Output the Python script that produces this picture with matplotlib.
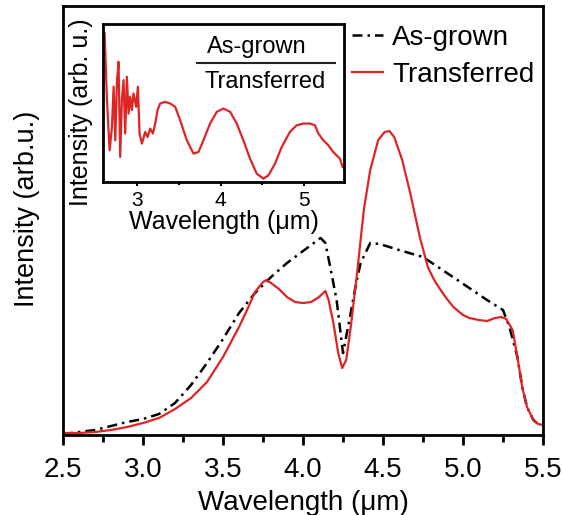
import matplotlib
matplotlib.use("Agg")
import matplotlib.pyplot as plt
from matplotlib.ticker import MultipleLocator, NullLocator
from matplotlib.lines import Line2D

plt.rcParams['font.family'] = ['Liberation Sans', 'DejaVu Sans']

# Main spectra (wavelength in um, intensity in arb. units)
wl_grown = [2.50, 2.70, 2.90, 3.00, 3.10, 3.20, 3.30, 3.40, 3.50, 3.60, 3.70, 3.80,
            3.90, 4.00, 4.11, 4.14, 4.18, 4.21, 4.25, 4.29, 4.33, 4.36, 4.42, 4.48,
            4.60, 4.75, 4.90, 5.03, 5.15, 5.25, 5.29, 5.34, 5.37, 5.40, 5.44, 5.47,
            5.50]
int_grown = [0.01, 0.05, 0.13, 0.16, 0.21, 0.32, 0.50, 0.72, 0.96, 1.22, 1.42, 1.58,
             1.72, 1.84, 1.97, 1.92, 1.60, 1.35, 0.82, 1.15, 1.50, 1.72, 1.92, 1.91,
             1.85, 1.78, 1.62, 1.48, 1.35, 1.25, 1.08, 0.78, 0.48, 0.28, 0.15, 0.11,
             0.10]

wl_trans = [2.50, 2.60, 2.70, 2.80, 2.90, 3.00, 3.10, 3.20, 3.30, 3.40, 3.50, 3.60,
            3.65, 3.70, 3.75, 3.77, 3.80, 3.85, 3.90, 3.95, 4.00, 4.05, 4.10, 4.14,
            4.16, 4.19, 4.22, 4.245, 4.27, 4.30, 4.34, 4.38, 4.42, 4.47, 4.51, 4.54,
            4.57, 4.62, 4.67, 4.73, 4.78, 4.82, 4.86, 4.90, 4.94, 5.00, 5.04, 5.10,
            5.15, 5.20, 5.24, 5.27, 5.31, 5.34, 5.37, 5.40, 5.44, 5.47, 5.50]
int_trans = [0.02, 0.02, 0.03, 0.05, 0.08, 0.12, 0.17, 0.26, 0.37, 0.53, 0.78, 1.08,
             1.25, 1.43, 1.53, 1.55, 1.52, 1.46, 1.38, 1.33, 1.32, 1.33, 1.38, 1.44,
             1.35, 1.12, 0.82, 0.67, 0.75, 1.10, 1.65, 2.25, 2.65, 2.95, 3.03, 3.04,
             2.98, 2.75, 2.42, 1.98, 1.68, 1.55, 1.45, 1.36, 1.28, 1.20, 1.17, 1.15,
             1.14, 1.17, 1.18, 1.16, 1.05, 0.78, 0.48, 0.28, 0.15, 0.11, 0.10]

# Inset: ratio As-grown / Transferred
wl_ratio = [2.609, 2.637, 2.669, 2.697, 2.717, 2.737, 2.756, 2.776, 2.796, 2.816,
            2.836, 2.856, 2.876, 2.896, 2.916, 2.936, 2.956, 2.988, 3.008, 3.028,
            3.056, 3.096, 3.124, 3.156, 3.188, 3.216, 3.244, 3.275, 3.335, 3.395,
            3.455, 3.515, 3.595, 3.675, 3.735, 3.794, 3.874, 3.954, 4.034, 4.114,
            4.194, 4.273, 4.353, 4.433, 4.513, 4.573, 4.653, 4.733, 4.832, 4.912,
            4.992, 5.072, 5.132, 5.172, 5.232, 5.291, 5.351, 5.391, 5.431, 5.463]
ratio = [0.941, 0.518, 0.201, 0.349, 0.603, 0.264, 0.624, 0.761, 0.159, 0.518,
         0.645, 0.307, 0.666, 0.433, 0.539, 0.455, 0.560, 0.476, 0.603, 0.307,
         0.243, 0.317, 0.285, 0.338, 0.307, 0.370, 0.455, 0.497, 0.507, 0.497,
         0.476, 0.391, 0.264, 0.180, 0.190, 0.264, 0.370, 0.444, 0.465, 0.444,
         0.370, 0.264, 0.148, 0.053, 0.021, 0.042, 0.116, 0.222, 0.317, 0.359,
         0.370, 0.370, 0.359, 0.307, 0.264, 0.233, 0.190, 0.169, 0.148, 0.095]

red = '#e02424'

fig = plt.figure(figsize=(5.63, 5.15), dpi=100)
ax = fig.add_axes([0.1119, 0.1553, 0.8526, 0.833])

ax.plot(wl_grown, int_grown, color='black', lw=1.8, linestyle=(0, (4, 2, 1, 2)),
        label='As-grown')
ax.plot(wl_trans, int_trans, color=red, lw=1.6, label='Transferred')

ax.set_xlim(2.5, 5.5)
ax.set_ylim(0, 4.29)
ax.xaxis.set_major_locator(MultipleLocator(0.5))
ax.xaxis.set_minor_locator(MultipleLocator(0.25))
ax.yaxis.set_major_locator(NullLocator())
ax.tick_params(axis='x', which='major', direction='out', length=7, width=2,
               labelsize=20, pad=9)
ax.tick_params(axis='x', which='minor', direction='out', length=5, width=2)
for s in ax.spines.values():
    s.set_linewidth(2)
ax.set_xlabel('Wavelength (μm)', fontsize=20, labelpad=5)
ax.set_ylabel('Intensity (arb.u.)', fontsize=19.5)
ax.yaxis.set_label_coords(-0.048, 0.527)

ax.legend(loc='upper left', bbox_to_anchor=(352 / 563, 1 - 25 / 515),
          bbox_transform=fig.transFigure, frameon=False, fontsize=20,
          handlelength=1.1, handletextpad=0.35, labelspacing=0.38, borderpad=0,
          borderaxespad=0)

# Inset
axi = fig.add_axes([0.183, 0.6466, 0.428, 0.3068])
axi.plot(wl_ratio, ratio, color=red, lw=1.6)
axi.set_xlim(2.59, 5.48)
axi.set_ylim(0, 1)
axi.xaxis.set_major_locator(MultipleLocator(1))
axi.xaxis.set_minor_locator(MultipleLocator(0.5))
axi.yaxis.set_major_locator(NullLocator())
axi.tick_params(axis='x', which='major', direction='out', length=3, width=1.5,
                labelsize=15, pad=3.5)
axi.tick_params(axis='x', which='minor', direction='out', length=2, width=1.5)
for s in axi.spines.values():
    s.set_linewidth(2)
axi.set_xlabel('Wavelength (μm)', fontsize=18, labelpad=0)
axi.set_ylabel('Intensity (arb. u.)', fontsize=18)
axi.yaxis.set_label_coords(-0.04, 0.44)

axi.text(0.64, 0.854, 'As-grown', transform=axi.transAxes, fontsize=17,
         ha='center', va='center')
axi.add_line(Line2D([0.39, 0.963], [0.753, 0.753], transform=axi.transAxes,
                    color='#222222', lw=1.5))
axi.text(0.672, 0.633, 'Transferred', transform=axi.transAxes, fontsize=17,
         ha='center', va='center')

fig.savefig('out.png', dpi=100)
